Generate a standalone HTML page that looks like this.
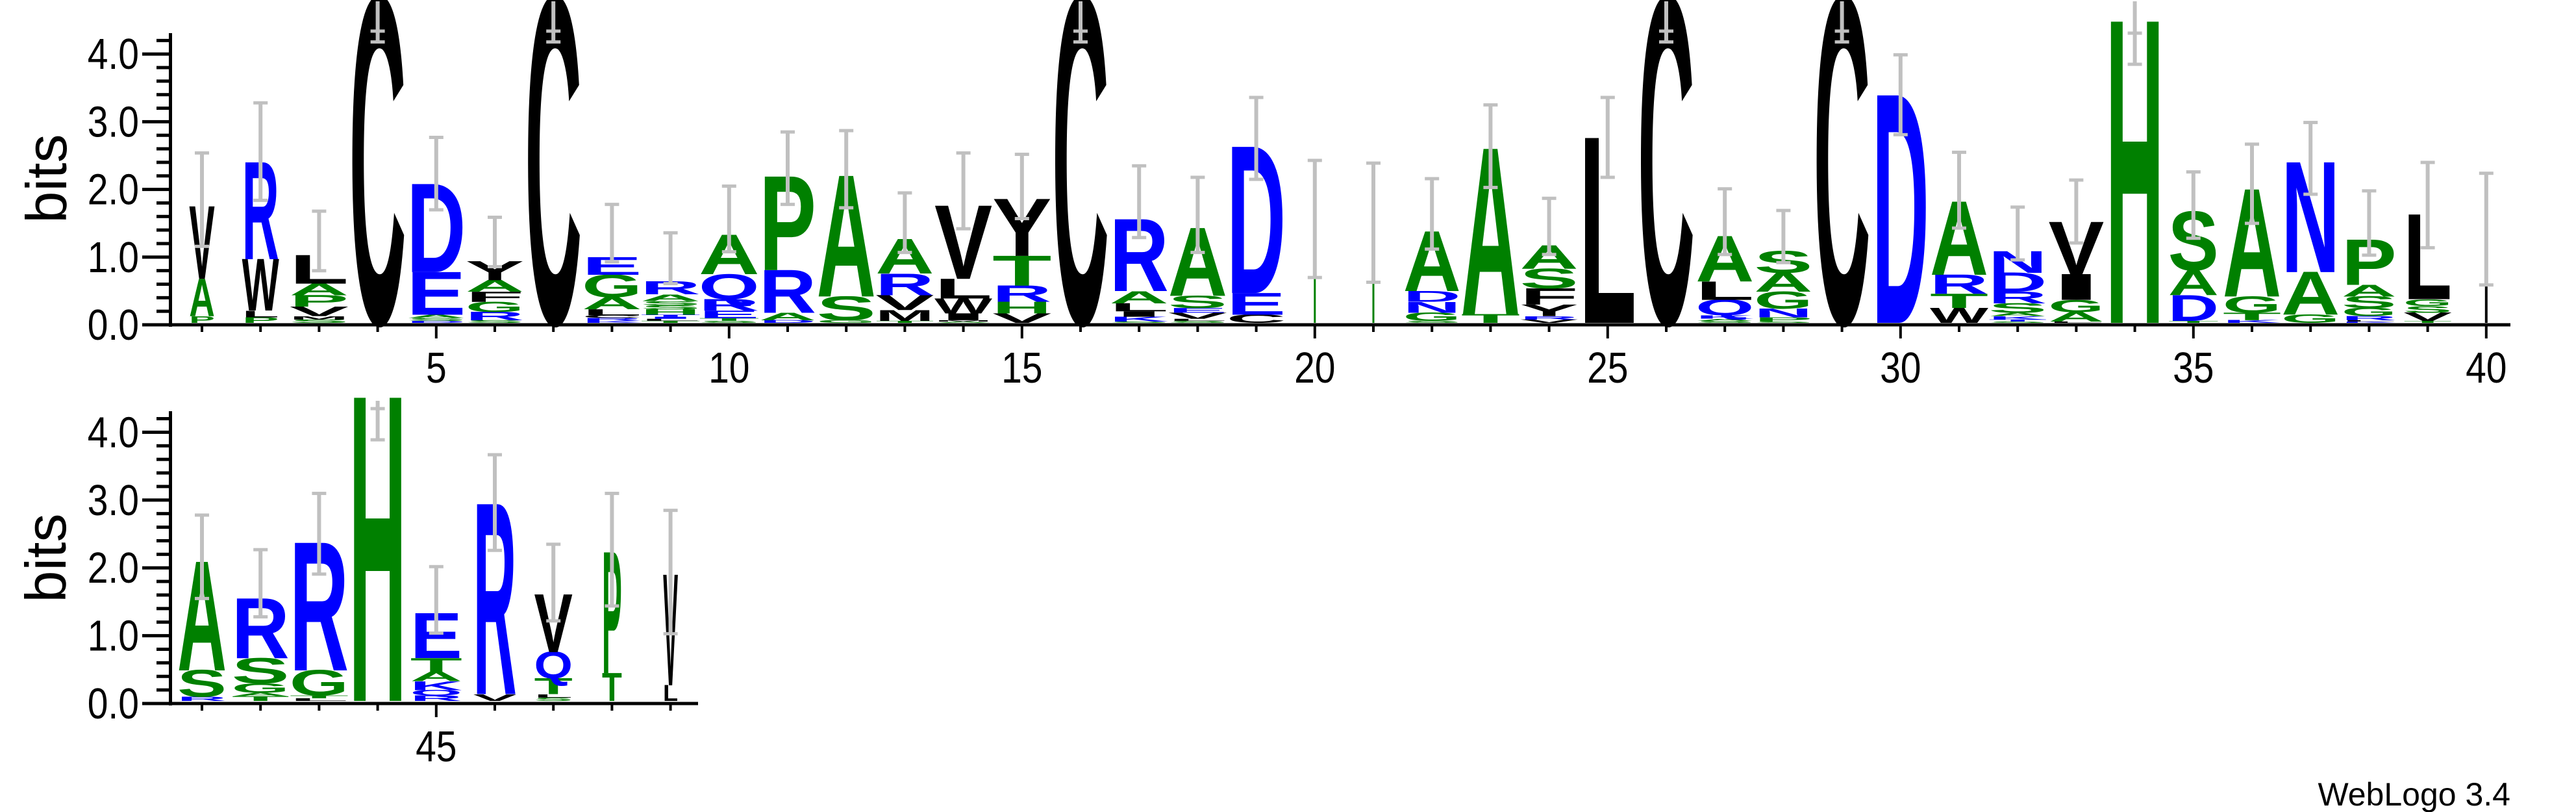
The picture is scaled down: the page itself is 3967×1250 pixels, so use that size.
<!DOCTYPE html>
<html><head><meta charset="utf-8"><style>html,body{margin:0;padding:0;background:#fff}svg{display:block}</style></head>
<body>
<svg id="s" xmlns="http://www.w3.org/2000/svg" width="3967" height="1250" viewBox="0 0 3967 1250">
<rect width="3967" height="1250" fill="#fff"/>
<text x="3866" y="1240" font-family="Liberation Sans, Arial, sans-serif" font-size="50" text-anchor="end">WebLogo 3.4</text>
</svg>
<script>
(function(){
var S=document.getElementById('s'),NS='http://www.w3.org/2000/svg';
function el(t,a,txt){var e=document.createElementNS(NS,t);for(var k in a)e.setAttribute(k,a[k]);if(txt!=null)e.textContent=txt;S.appendChild(e);return e;}
var COL={g:'#008000',b:'#0000ff',k:'#000000'};
var top=[
[1,36,[['P','g',.1],['A','g',.55],['V','k',1.07]],1.13,2.51],
[2,52,[['P','g',.08],['L','k',.1],['W','k',.76],['R','b',1.43]],1.81,3.25],
[3,83,[['S','g',.05],['M','k',.05],['V','k',.14],['P','g',.17],['A','g',.17],['L','k',.42]],.77,1.65],
[4,80,[['C','k',4.77]],'C'],
[5,83,[['D','b',.03],['S','g',.04],['A','g',.05],['E','b',.63],['D','b',1.3]],1.67,2.74],
[6,82,[['S','g',.04],['R','b',.12],['G','g',.15],['F','k',.15],['A','g',.17],['Y','k',.28]],.83,1.56],
[7,80,[['C','k',4.77]],'C'],
[8,84,[['K','b',.03],['R','b',.04],['C','k',.04],['L','k',.09],['A','g',.18],['G','g',.33],['E','b',.26]],.9,1.75],
[9,84,[['T','g',.03],['L','k',.03],['I','b',.03],['T','b',.03],['H','g',.08],['S','g',.06],['S','g',.06],['A','g',.1],['R','b',.19]],.58,1.33],
[10,85,[['S','g',.03],['T','g',.04],['E','b',.11],['R','b',.17],['Q','b',.37],['A','g',.58]],1.05,2.02],
[11,80,[['D','b',.04],['A','g',.11],['R','b',.63],['P','g',1.38]],1.75,2.82],
[12,83,[['G','g',.04],['S','g',.35],['A','g',1.78]],1.7,2.84],
[13,82,[['T','g',.03],['M','k',.16],['V','k',.22],['R','b',.32],['A','g',.51]],1.04,1.92],
[14,81,[['A','g',.02],['M','k',.02],['I','k',.1],['W','k',.22],['L','k',.29],['V','k',1.08]],1.39,2.51],
[15,83,[['V','k',.14],['H','g',.17],['R','b',.24],['T','g',.44],['Y','k',.84]],1.54,2.49],
[16,80,[['C','k',4.77]],'C'],
[17,83,[['S','g',.02],['K','b',.07],['I','k',.08],['L','k',.12],['A','g',.18],['R','b',1.06]],1.26,2.32],
[18,83,[['S','g',.03],['L','k',.03],['V','k',.09],['E','b',.07],['S','g',.18],['A','g',1.0]],1.04,2.15],
[19,83,[['C','k',.12],['E','b',.32],['D','b',2.16]],2.12,3.33],
[20,0,[],.67,2.4,[[3,'g',0,1.5]]],
[21,0,[],.6,2.36,[[3,'g',0,1.48]]],
[22,81,[['S','g',.03],['G','g',.12],['N','b',.16],['D','b',.16],['A','g',.88]],1.09,2.13],
[23,83,[['T','g',.13],['A','g',2.44]],2.0,3.22],
[24,82,[['V','k',.05],['R','b',.05],['Y','k',.17],['F','k',.24],['S','g',.29],['A','g',.34]],1.01,1.84],
[25,81,[['L','k',2.73]],2.15,3.33],
[26,80,[['C','k',4.77]],'C'],
[27,82,[['S','g',.03],['A','g',.03],['K','b',.05],['Q','b',.23],['L','k',.27],['A','g',.67]],1.01,1.98],
[28,82,[['S','g',.02],['P','g',.06],['N','b',.13],['G','g',.25],['A','g',.28],['S','g',.32]],.89,1.66],
[29,80,[['C','k',4.77]],'C'],
[30,80,[['D','b',3.36]],2.78,3.96],
[31,82,[['W','k',.22],['T','g',.21],['R','b',.28],['A','g',1.08]],1.4,2.52],
[32,82,[['S','g',.02],['T','b',.03],['K','b',.05],['A','g',.05],['S','g',.14],['R','b',.17],['D','b',.28],['N','b',.32]],.93,1.71],
[33,78,[['L','k',.02],['A','g',.14],['G','g',.18],['I','k',.38],['V','k',.77]],1.18,2.11],
[34,82,[['H','g',4.45]],'H'],
[35,71,[['T','g',.03],['D','b',.38],['A','g',.37],['S','g',.86]],1.25,2.23],
[36,82,[['K','b',.04],['T','g',.11],['G','g',.24],['A','g',1.58]],1.47,2.64],
[37,82,[['G','g',.12],['A','g',.63],['N','b',1.62]],1.9,2.96],
[38,77,[['K','b',.02],['L','k',.02],['R','b',.06],['G','g',.12],['S','g',.17],['A','g',.17],['P','g',.67]],1.0,1.95],
[39,68,[['T','g',.03],['V','k',.12],['S','g',.1],['G','g',.1],['L','k',1.25]],1.11,2.37],
[40,0,[],.56,2.21,[[4,'k',0,.55],[3,'g',.55,1.38]]]
];
var bot=[
[41,69,[['R','b',.06],['S','g',.39],['A','g',1.6]],1.51,2.74],
[42,81,[['T','g',.07],['A','g',.05],['G','g',.14],['S','g',.37],['R','b',.88]],1.24,2.23],
[43,83,[['L','k',.04],['T','g',.04],['G','g',.37],['R','b',1.88]],1.87,3.06],
[44,81,[['H','g',4.47]],'H'],
[45,73,[['R','b',.08],['Q','b',.08],['K','b',.13],['A','g',.14],['T','g',.2],['E','b',.66]],1.0,1.98],
[46,61,[['V','k',.1],['R','b',2.8]],2.22,3.63],
[47,54,[['S','g',.05],['L','k',.05],['T','g',.23],['Q','b',.39],['V','k',.85]],1.18,2.31],
[48,28,[['T','g',.41],['P','g',1.78]],1.4,3.06],
[49,21,[['L','k',.23],['V','k',1.63]],.99,2.81]
];
var FF='Liberation Sans, Arial, sans-serif';
var CAP=68.8;
function panel(data,first,base,tick0,scale,axisTop,axisEnd,ytop){
  var ax=263;
  data.forEach(function(c){
    var cx=311+(c[0]-first)*90.2, w=c[1], y=base;
    c[2].forEach(function(L){
      var h=L[2]*scale; if(h<0.6){y-=h;return;}
      var tw=w*1.1;
      el('text',{x:0,y:0,'font-family':FF,'font-weight':'bold','font-size':100,fill:COL[L[1]],
        textLength:tw,lengthAdjust:'spacingAndGlyphs',
        transform:'translate('+(cx-tw/2)+','+y+') scale(1,'+(h/CAP)+')'},L[0]);
      y-=h;
    });
    if(c[5]) c[5].forEach(function(r){
      el('rect',{x:cx-r[0]/2,y:base-r[3]*scale,width:r[0],height:(r[3]-r[2])*scale,fill:COL[r[1]]});
    });
  });
  data.forEach(function(c){
    var cx=311+(c[0]-first)*90.2, lo,hi,lineTop;
    if(c[3]==='C'){lo=4.15;hi=4.31;lineTop=ytop;}
    else if(c[3]==='H'){lo=(first==1?3.82:3.85);hi=(first==1?4.28:4.31);lineTop=ytop;}
    else {lo=c[3];hi=c[4];lineTop=base-hi*scale;}
    var ylo=base-lo*scale, yhi=base-hi*scale;
    el('rect',{x:cx-3,y:lineTop,width:6,height:ylo-lineTop,fill:'#c0c0c0'});
    el('rect',{x:cx-11,y:ylo-2.5,width:22,height:5,fill:'#c0c0c0'});
    el('rect',{x:cx-11,y:yhi-2.5,width:22,height:5,fill:'#c0c0c0'});
  });
  el('rect',{x:ax-3,y:axisTop,width:5,height:tick0-axisTop+3,fill:'#000'});
  for(var i=0;i<=21;i++){
    var b=i*0.2, ty=tick0-b*scale; if(ty<axisTop)break;
    var major=(i%5==0);
    el('rect',{x:major?219:241,y:ty-2.5,width:major?ax-219:ax-241,height:5,fill:'#000'});
    if(major) el('text',{x:0,y:0,'font-family':FF,'font-size':62,'text-anchor':'end',fill:'#000',transform:'translate(214,'+(ty+23)+') scale(0.92,1.08)'},(b).toFixed(1));
  }
  el('rect',{x:ax-3,y:tick0-2.5,width:axisEnd-ax+3,height:5,fill:'#000'});
  data.forEach(function(c){
    var cx=311+(c[0]-first)*90.2, major=(c[0]%5==0);
    el('rect',{x:cx-2,y:tick0,width:4,height:major?21:11,fill:'#000'});
    if(major) el('text',{x:0,y:0,'font-family':FF,'font-size':62,'text-anchor':'middle',fill:'#000',transform:'translate('+cx+','+(tick0+89)+') scale(0.92,1.08)'},String(c[0]));
  });
}
panel(top,1,497,500,104.2,51,3866,2);
panel(bot,41,1079,1083,104.4,633,1075,617);
el('text',{x:0,y:0,'font-family':FF,'font-size':88,'text-anchor':'middle',fill:'#000',transform:'translate(102,275) rotate(-90)'},'bits');
el('text',{x:0,y:0,'font-family':FF,'font-size':88,'text-anchor':'middle',fill:'#000',transform:'translate(101,859) rotate(-90)'},'bits');
})();
</script>
</body></html>
